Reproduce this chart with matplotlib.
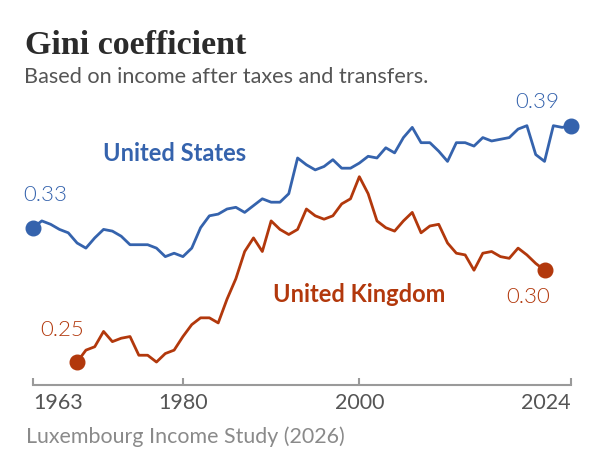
import matplotlib.pyplot as plt

# Gini coefficient, income after taxes and transfers
us_years = list(range(1963, 2025))
us_gini = [0.328, 0.332, 0.330, 0.327, 0.325, 0.319, 0.316, 0.322, 0.327, 0.326,
           0.323, 0.318, 0.318, 0.318, 0.316, 0.311, 0.313, 0.311, 0.316, 0.328,
           0.335, 0.336, 0.339, 0.340, 0.337, 0.341, 0.345, 0.343, 0.343, 0.348,
           0.369, 0.365, 0.362, 0.364, 0.368, 0.363, 0.363, 0.366, 0.370, 0.369,
           0.375, 0.372, 0.381, 0.387, 0.378, 0.378, 0.373, 0.367, 0.378, 0.378,
           0.376, 0.381, 0.379, 0.380, 0.381, 0.386, 0.388, 0.371, 0.367, 0.388,
           0.387, 0.388]

uk_years = list(range(1968, 2022))
uk_gini = [0.249, 0.256, 0.258, 0.267, 0.261, 0.263, 0.264, 0.253, 0.253, 0.249,
           0.254, 0.256, 0.264, 0.271, 0.275, 0.275, 0.272, 0.286, 0.298, 0.314,
           0.322, 0.314, 0.332, 0.327, 0.324, 0.327, 0.339, 0.335, 0.333, 0.335,
           0.342, 0.345, 0.358, 0.348, 0.332, 0.328, 0.326, 0.332, 0.337, 0.325,
           0.329, 0.330, 0.319, 0.313, 0.312, 0.303, 0.313, 0.314, 0.311, 0.310,
           0.316, 0.312, 0.307, 0.303]

tick_years = [1963, 1980, 2000, 2024]

blue = '#3563ad'
red = '#b2380c'
W, H = 604, 466

plt.rcParams['font.family'] = ['Lato', 'DejaVu Sans']

fig = plt.figure(figsize=(W / 100, H / 100), dpi=100)
ax = fig.add_axes([33 / W, 1 - 385 / H, 538 / W, 285 / H])


def fig_xy(x, y):
    # pixel position (from top-left) to figure fraction
    return x / W, 1 - y / H


ax.plot(us_years, us_gini, color=blue, lw=2.0, clip_on=False)
ax.plot(uk_years, uk_gini, color=red, lw=2.0, clip_on=False)
for yrs, vals, c in [(us_years, us_gini, blue), (uk_years, uk_gini, red)]:
    ax.plot([yrs[0], yrs[-1]], [vals[0], vals[-1]], 'o', ms=10.5, color=c,
            clip_on=False, zorder=5)

# end value labels
lab = dict(textcoords='offset points', fontsize=16, fontweight=300, va='baseline')
ax.annotate(f'{us_gini[0]:.2f}', (us_years[0], us_gini[0]), xytext=(-7.2, 19),
            ha='left', color=blue, **lab)
ax.annotate(f'{us_gini[-1]:.2f}', (us_years[-1], us_gini[-1]), xytext=(-8.6, 12.5),
            ha='right', color=blue, **lab)
ax.annotate(f'{uk_gini[0]:.2f}', (uk_years[0], uk_gini[0]), xytext=(4.7, 18.7),
            ha='right', color=red, **lab)
ax.annotate(f'{uk_gini[-1]:.2f}', (uk_years[-1], uk_gini[-1]), xytext=(4.1, -23.3),
            ha='right', color=red, **lab)

# series names
fig.text(*fig_xy(103, 160.7), 'United States', color=blue, fontsize=17,
         fontweight='bold', va='baseline')
fig.text(*fig_xy(273, 301.7), 'United Kingdom', color=red, fontsize=17,
         fontweight='bold', va='baseline')

ax.set_xlim(1963, 2024)
ax.set_ylim(0.2355, 0.4031)
for s in ['top', 'right', 'left']:
    ax.spines[s].set_visible(False)
ax.spines['bottom'].set_color('#9a9a9a')
ax.spines['bottom'].set_linewidth(1.5)
ax.set_yticks([])
ax.set_xticks(tick_years)
ax.set_xticklabels([str(y) for y in tick_years])
ax.tick_params(axis='x', direction='in', length=5, width=1.5, color='#9a9a9a',
               labelsize=15.5, labelcolor='#555555', pad=6)
labels = ax.get_xticklabels()
labels[0].set_ha('left')
labels[-1].set_ha('right')

fig.text(*fig_xy(25, 54), 'Gini coefficient', fontsize=24.5, fontweight='bold',
         family='Liberation Serif', color='#2b2b2b', va='baseline')
fig.text(*fig_xy(24, 83.3), 'Based on income after taxes and transfers.',
         fontsize=15.6, color='#555555', va='baseline')
fig.text(*fig_xy(26, 443), 'Luxembourg Income Study (2026)', fontsize=15.4,
         color='#8a8a8a', va='baseline')

fig.savefig('out.png', dpi=100)
